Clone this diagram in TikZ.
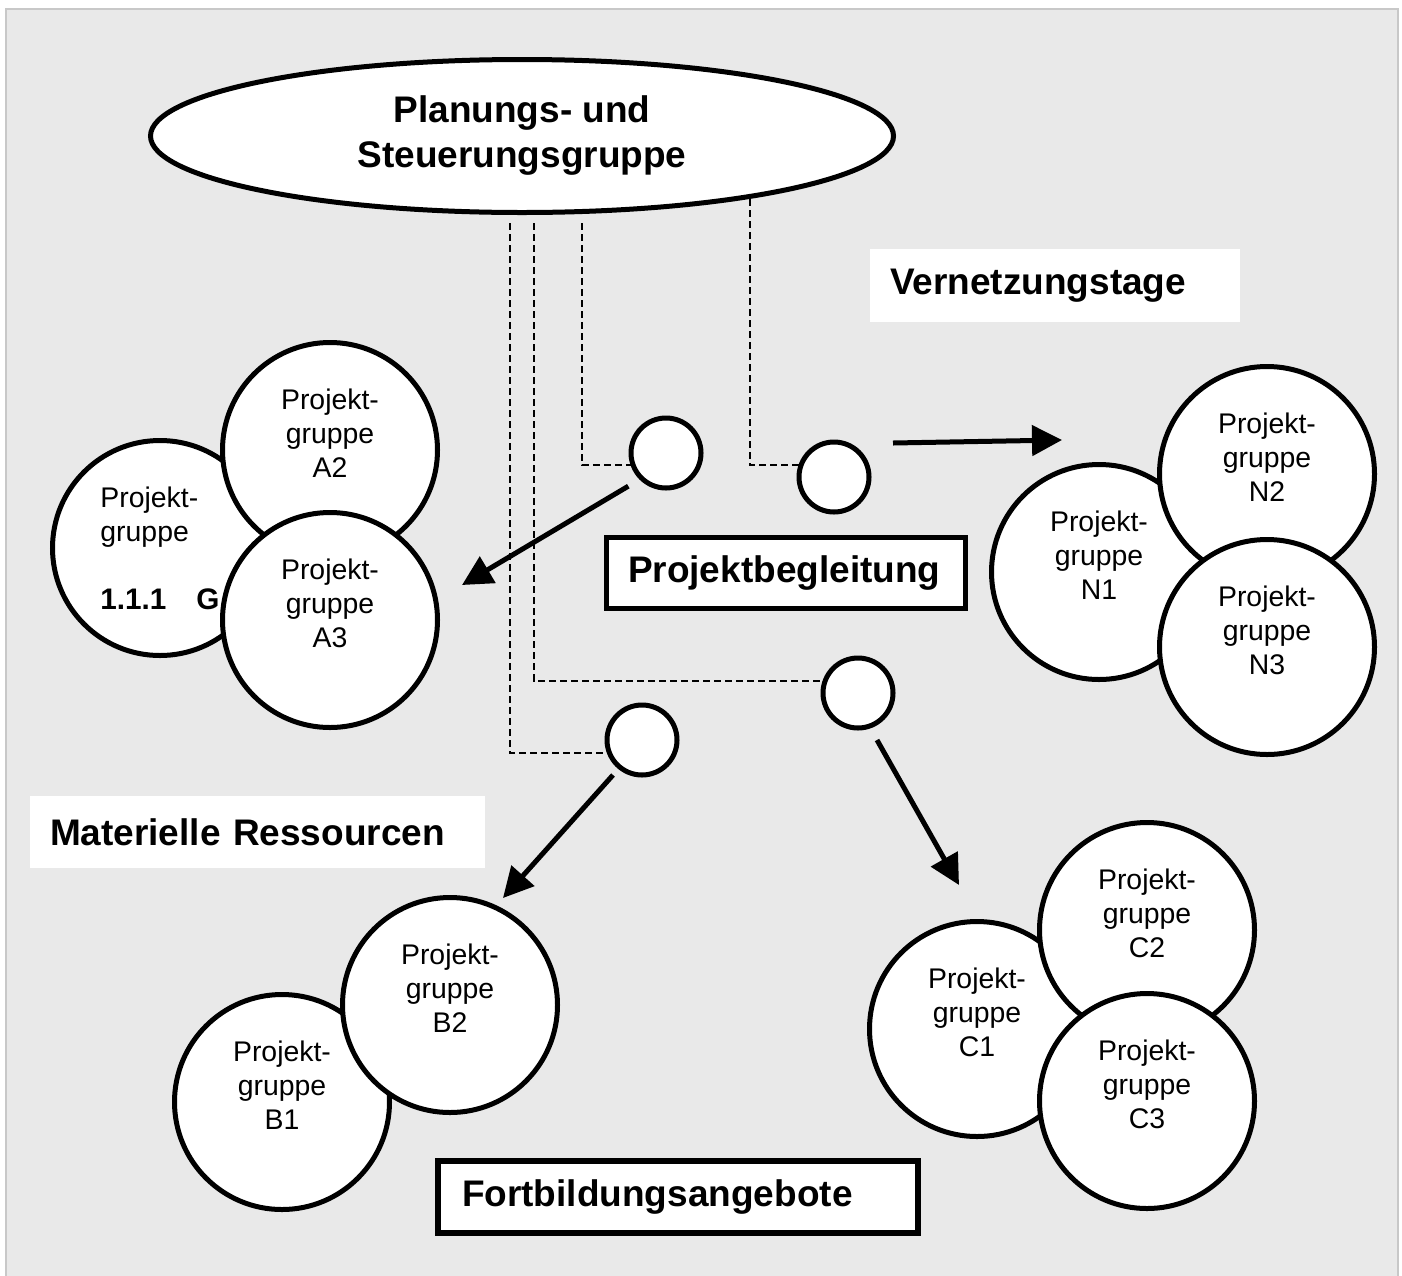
\documentclass[tikz,border=0pt]{standalone}
\usepackage{fontspec}
\setmainfont{Liberation Sans}
\usetikzlibrary{arrows.meta,shapes.geometric}

\definecolor{panel}{RGB}{233,233,233}
\definecolor{panelrule}{RGB}{200,200,200}

\tikzset{
  group/.style={circle, draw=black, line width=5pt, fill=white,
    minimum size=215pt, inner sep=0pt, align=center,
    font=\fontsize{28.4}{34}\selectfont},
  hub/.style={circle, draw=black, line width=5pt, fill=white,
    minimum size=70pt, inner sep=0pt},
  link/.style={draw=black, line width=2pt, dash pattern=on 7pt off 4pt},
  flow/.style={draw=black, line width=5pt,
    -{Triangle[length=30pt,width=30pt]}},
  tag/.style={fill=white, align=left, inner ysep=0pt,
    font=\fontsize{37}{45}\selectfont\bfseries},
  framedtag/.style={tag, draw=black},
  steering/.style={ellipse, draw=black, line width=5pt, fill=white,
    minimum width=743pt, minimum height=153pt, inner sep=0pt,
    align=center, font=\fontsize{37}{45}\selectfont\bfseries}
}

\begin{document}
\begin{tikzpicture}[x=1pt, y=-1pt]
  \useasboundingbox (0,0) rectangle (1402,1275);

  % panel
  \fill[white] (0,0) rectangle (1402,1275);
  \draw[panelrule, fill=panel, line width=2pt] (6,1290) -- (6,9) -- (1398,9) -- (1398,1290);

  % steering group
  \node[steering] (plan) at (522,136) {Planungs- und\\Steuerungsgruppe};

  % hubs of the accompaniment
  \node[hub] (h1) at (666,453) {};
  \node[hub] (h2) at (834,477) {};
  \node[hub] (h3) at (858,693) {};
  \node[hub] (h4) at (642,740) {};

  % dashed lines from the steering group to the hubs
  \coordinate (s1) at (582,223);
  \coordinate (s2) at (750,199);
  \coordinate (s3) at (534,223);
  \coordinate (s4) at (510,223);
  \draw[link] (s1) |- (h1.199);
  \draw[link] (s2) |- (h2.161);
  \draw[link] (s3) |- (h3.161);
  \draw[link] (s4) |- (h4.200);

  % arrows towards the project groups
  \coordinate (tipA) at (462,585);
  \coordinate (tailN) at (893,443);
  \coordinate (tipN) at (1062,440);
  \coordinate (tailB) at (613,775);
  \coordinate (tipB) at (503,898);
  \coordinate (tailC) at (877,740);
  \coordinate (tipC) at (959,885);
  \draw[flow, shorten <=13pt] (h1.225) -- (tipA);
  \draw[flow] (tailN) -- (tipN);
  \draw[flow] (tailB) -- (tipB);
  \draw[flow] (tailC) -- (tipC);

  % project groups A
  \node[group, align=left] (a1) at (160,548)
    {Projekt-\\gruppe\\\mbox{}\\{\fontsize{29.7}{34}\selectfont\bfseries 1.1.1\hspace{30pt}G}};
  \node[group] (a2) at (330,450) {Projekt-\\gruppe\\A2\\\mbox{}};
  \node[group] (a3) at (330,620) {Projekt-\\gruppe\\A3\\\mbox{}};

  % project groups N
  \node[group] (n1) at (1099,572) {Projekt-\\gruppe\\N1\\\mbox{}};
  \node[group] (n2) at (1267,474) {Projekt-\\gruppe\\N2\\\mbox{}};
  \node[group] (n3) at (1267,647) {Projekt-\\gruppe\\N3\\\mbox{}};

  % project groups B
  \node[group] (b1) at (282,1102) {Projekt-\\gruppe\\B1\\\mbox{}};
  \node[group] (b2) at (450,1005) {Projekt-\\gruppe\\B2\\\mbox{}};

  % project groups C
  \node[group] (c1) at (977,1029) {Projekt-\\gruppe\\C1\\\mbox{}};
  \node[group] (c2) at (1147,930) {Projekt-\\gruppe\\C2\\\mbox{}};
  \node[group] (c3) at (1147,1101) {Projekt-\\gruppe\\C3\\\mbox{}};

  % labels
  \node[tag, text width=330pt, inner xsep=20pt, minimum height=73pt]
    (vernetzung) at (1055,285.5) {Vernetzungstage};
  \node[framedtag, line width=5pt, text width=316pt, inner xsep=21.5pt, minimum height=71pt]
    (begleitung) at (786,573) {Projektbegleitung};
  \node[tag, text width=415pt, inner xsep=20pt, minimum height=72pt]
    (ressourcen) at (257.5,832) {Materielle Ressourcen};
  \node[framedtag, line width=6pt, text width=432pt, inner xsep=24pt, minimum height=72pt]
    (fortbildung) at (678,1197) {Fortbildungsangebote};
\end{tikzpicture}
\end{document}
